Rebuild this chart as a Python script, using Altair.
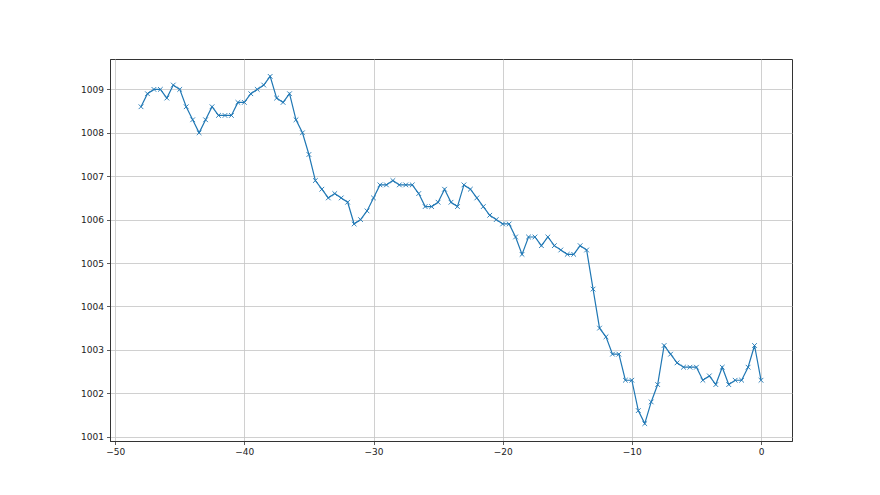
import altair as alt
import pandas as pd

x_values = [i * 0.5 - 48 for i in range(97)]
pressure = [
    1008.6, 1008.9, 1009.0, 1009.0, 1008.8, 1009.1, 1009.0, 1008.6, 1008.3, 1008.0,
    1008.3, 1008.6, 1008.4, 1008.4, 1008.4, 1008.7, 1008.7, 1008.9, 1009.0, 1009.1,
    1009.3, 1008.8, 1008.7, 1008.9, 1008.3, 1008.0, 1007.5, 1006.9, 1006.7, 1006.5,
    1006.6, 1006.5, 1006.4, 1005.9, 1006.0, 1006.2, 1006.5, 1006.8, 1006.8, 1006.9,
    1006.8, 1006.8, 1006.8, 1006.6, 1006.3, 1006.3, 1006.4, 1006.7, 1006.4, 1006.3,
    1006.8, 1006.7, 1006.5, 1006.3, 1006.1, 1006.0, 1005.9, 1005.9, 1005.6, 1005.2,
    1005.6, 1005.6, 1005.4, 1005.6, 1005.4, 1005.3, 1005.2, 1005.2, 1005.4, 1005.3,
    1004.4, 1003.5, 1003.3, 1002.9, 1002.9, 1002.3, 1002.3, 1001.6, 1001.3, 1001.8,
    1002.2, 1003.1, 1002.9, 1002.7, 1002.6, 1002.6, 1002.6, 1002.3, 1002.4, 1002.2,
    1002.6, 1002.2, 1002.3, 1002.3, 1002.6, 1003.1, 1002.3,
]
x_ticks = [-50, -40, -30, -20, -10, 0]
y_ticks = [1001, 1002, 1003, 1004, 1005, 1006, 1007, 1008, 1009]

df = pd.DataFrame({"x": x_values, "p": pressure})

color = "#1f77b4"
xs = alt.X("x:Q", scale=alt.Scale(domain=[-50.4, 2.4], nice=False, zero=False),
           axis=alt.Axis(values=x_ticks, title=None, format="d"))
ys = alt.Y("p:Q", scale=alt.Scale(domain=[1000.9, 1009.7], nice=False, zero=False),
           axis=alt.Axis(values=y_ticks, title=None, format="d"))

line = alt.Chart(df).mark_line(color=color, strokeWidth=1.2).encode(x=xs, y=ys)
pts = alt.Chart(df).mark_point(
    shape="M-1,-1L1,1M-1,1L1,-1", size=22, filled=False, color=color, strokeWidth=0.9, opacity=1
).encode(x=xs, y=ys)

chart = (line + pts).properties(
    width=682, height=382,
    autosize=alt.AutoSizeParams(type="none"),
    padding={"left": 102, "top": 51, "right": 80, "bottom": 46},
).configure_view(stroke="#333333", strokeWidth=1).configure_axis(
    grid=True, gridColor="#c4c4c4", gridWidth=0.8,
    domainColor="#333333", domainWidth=1,
    tickColor="#333333", tickSize=3.5, tickWidth=0.8,
    labelFont="DejaVu Sans", labelFontSize=9, labelColor="#222222", labelPadding=3,
)

chart.save("out.html", embed_options={"renderer": "svg", "actions": False})
